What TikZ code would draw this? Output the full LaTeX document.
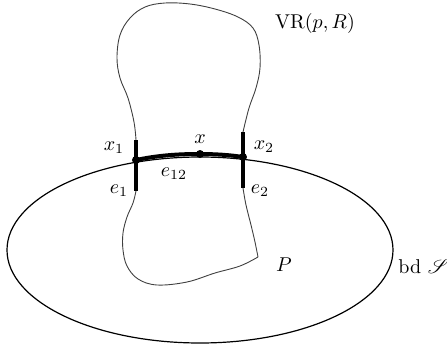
\documentclass[tikz,border=0pt]{standalone}
\usepackage{mathrsfs}
\begin{document}
\begin{tikzpicture}[x=0.5pt,y=-0.5pt,
  thinline/.style={line width=0.45pt, black!75},
  bdline/.style={line width=0.6pt, black},
  boldseg/.style={line width=2pt, black},
  dotpt/.style={circle, fill=black, inner sep=0pt, minimum size=4pt},
  lbl/.style={inner sep=1pt, font=\normalsize}]
\useasboundingbox (0,0) rectangle (447,349);
% boundary of S (ellipse)
\draw[bdline] (200,250) ellipse [x radius=96.5pt, y radius=46.5pt];
% named points
\coordinate (e1t) at (136,140);
\coordinate (e1b) at (136,191);
\coordinate (e2t) at (243,132);
\coordinate (e2b) at (243,188);
\coordinate (crn) at (258,257);
\node[dotpt] (x1) at (136,160) {};
\node[dotpt] (x2) at (243,157) {};
\node[dotpt] (xx) at (200,154) {};
% Voronoi region outline
\draw[thinline] plot[smooth, tension=0.6] coordinates {
  (136,140) (134,122) (128,98) (120,78) (117,58) (120,35) (130,18) (145,7) (165,3) (190,4) (215,9) (238,17) (253,28) (259,45) (260,68) (256,88) (249,108) (243,132)};
\draw[thinline] plot[smooth, tension=0.6] coordinates {
  (243,188) (246,205) (251,225) (255,242) (258,257)};
\draw[thinline] plot[smooth, tension=0.6] coordinates {
  (258,257) (240,266) (215,273) (187,282) (157,285) (138,279) (127,266) (123,250) (123,233) (127,217) (133,203) (136,191)};
% bold edges
\draw[boldseg] (e1t) -- (e1b);
\draw[boldseg] (e2t) -- (e2b);
\draw[boldseg] (x1.center) .. controls (160,155) and (180,154) .. (xx.center) .. controls (215,154) and (230,155) .. (x2.center);
% labels
\node[lbl] (lvr) at (315,23) {$\mathrm{VR}(p,R)$};
\node[lbl] (lx1) at (114,148) {$x_1$};
\node[lbl] (lx) at (200,139) {$x$};
\node[lbl] (lx2) at (264,147) {$x_2$};
\node[lbl] (le12) at (174,174) {$e_{12}$};
\node[lbl] (le1) at (119,191) {$e_1$};
\node[lbl] (le2) at (260,191) {$e_2$};
\node[lbl] (lP) at (284,265) {$P$};
\node[lbl, anchor=west] (lbd) at (396,267) {bd $\mathscr{S}$};
\end{tikzpicture}
\end{document}
